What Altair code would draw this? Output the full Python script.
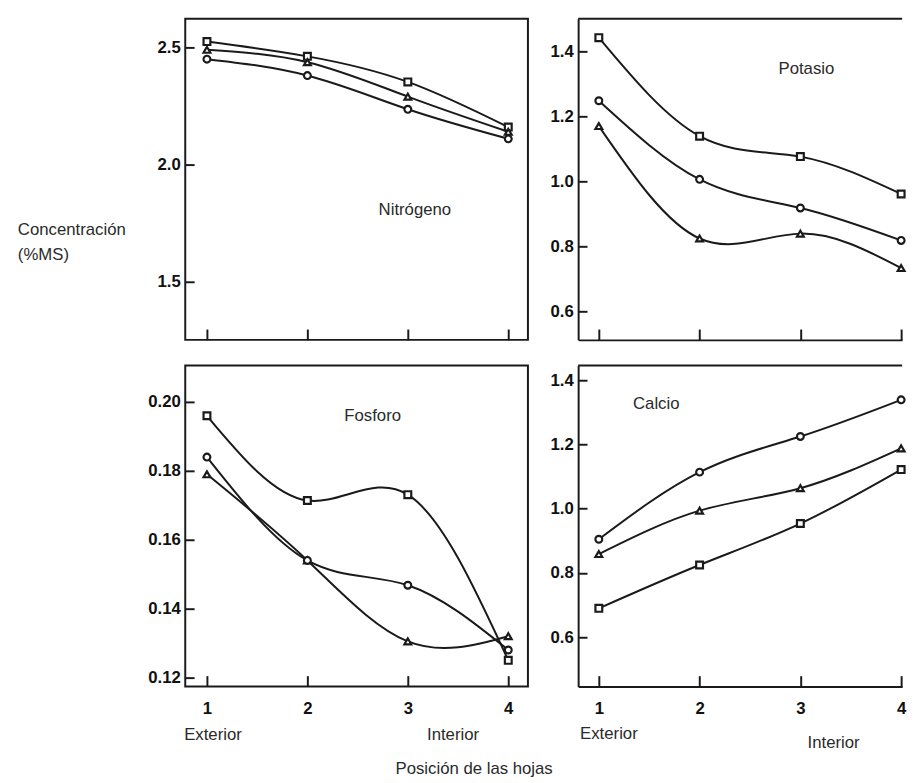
import altair as alt
import pandas as pd

# ---------------- data ----------------
positions = [1, 2, 3, 4]
series = ["cuadrado", "triangulo", "circulo"]
series_shapes = ["square", "triangle-up", "circle"]

nitrogeno = {
    "cuadrado": [2.525, 2.462, 2.353, 2.16],
    "triangulo": [2.49, 2.437, 2.29, 2.14],
    "circulo": [2.45, 2.38, 2.236, 2.11],
}
potasio = {
    "cuadrado": [1.442, 1.139, 1.076, 0.961],
    "triangulo": [1.170, 0.824, 0.839, 0.733],
    "circulo": [1.248, 1.006, 0.918, 0.818],
}
fosforo = {
    "cuadrado": [0.196, 0.1714, 0.1731, 0.125],
    "triangulo": [0.179, 0.154, 0.1305, 0.132],
    "circulo": [0.184, 0.154, 0.1468, 0.128],
}
calcio = {
    "cuadrado": [0.690, 0.825, 0.954, 1.122],
    "triangulo": [0.859, 0.994, 1.064, 1.188],
    "circulo": [0.905, 1.114, 1.225, 1.339],
}

ticks_n = [1.5, 2.0, 2.5]
ticks_k = [0.6, 0.8, 1.0, 1.2, 1.4]
ticks_p = [0.12, 0.14, 0.16, 0.18, 0.20]
ticks_ca = [0.6, 0.8, 1.0, 1.2, 1.4]

FONT = "Liberation Sans, Arial, sans-serif"
INK = "#1a1a1a"
TXT = "#2a2a2a"

one = pd.DataFrame({"k": [0]})


def make_df(values):
    rows = []
    for s in series:
        for p, v in zip(positions, values[s]):
            rows.append({"pos": p, "valor": v, "serie": s})
    return pd.DataFrame(rows)


def label(text, **enc):
    return alt.Chart(one).mark_text(
        text=text, font=FONT, fontSize=17, color=TXT
    ).encode(**enc)


def panel(values, ydomain, yticks, yfmt, xdomain, width, height, framed,
          show_xlabels, extras):
    df = make_df(values)
    xaxis = alt.Axis(
        values=positions, title=None, labels=show_xlabels, format="d",
        grid=False, tickSize=alt.ExprRef(expr="-11"), tickColor=INK,
        tickWidth=2, domain=not framed, domainColor=INK, domainWidth=2,
        labelPadding=25,
    )
    yaxis = alt.Axis(
        values=yticks, title=None, format=yfmt, grid=False,
        tickSize=alt.ExprRef(expr="-9"), tickColor=INK, tickWidth=2,
        domain=not framed, domainColor=INK, domainWidth=2, labelPadding=14,
    )
    x = alt.X("pos:Q", scale=alt.Scale(domain=xdomain, nice=False, zero=False),
              axis=xaxis)
    y = alt.Y("valor:Q", scale=alt.Scale(domain=ydomain, nice=False, zero=False),
              axis=yaxis)
    base = alt.Chart(df)
    lines = base.mark_line(interpolate="natural", color=INK,
                           strokeWidth=2).encode(x=x, y=y, detail="serie:N")
    points = base.mark_point(
        filled=True, fill="white", stroke=INK, strokeWidth=2.2, size=48,
        opacity=1,
    ).encode(
        x=x, y=y,
        shape=alt.Shape("serie:N",
                        scale=alt.Scale(domain=series, range=series_shapes),
                        legend=None),
    )
    layers = [lines, points] + extras
    if framed:
        view = alt.ViewBackground(stroke=INK, strokeWidth=2)
    else:
        view = alt.ViewBackground(stroke="transparent")
        layers.append(
            alt.Chart(one).mark_rule(color=INK, strokeWidth=2).encode(
                y=alt.value(0))
        )
    return alt.layer(*layers).properties(width=width, height=height, view=view)


W_L, W_R, H = 348, 329, 326
XD_L = [0.784, 0.784 + 348 / 102.0]
XD_R = [0.7948, 0.7948 + 329 / 102.33]

p_n = panel(
    nitrogeno, [1.252, 2.622], ticks_n, ".1f", XD_L, W_L, H, True, False,
    [
        label("Nitrógeno", x=alt.datum(3.07), y=alt.datum(1.807)),
        alt.Chart(one).mark_text(text="Concentración", font=FONT, fontSize=17,
                                 color=TXT, align="left").encode(
            x=alt.value(-170), y=alt.value(214)),
        alt.Chart(one).mark_text(text="(%MS)", font=FONT, fontSize=17,
                                 color=TXT, align="left").encode(
            x=alt.value(-170), y=alt.value(240)),
    ],
)
p_k = panel(
    potasio, [0.512, 1.50], ticks_k, ".1f", XD_R, W_R, H, False, False,
    [label("Potasio", x=alt.datum(3.06), y=alt.datum(1.345))],
)
p_p = panel(
    fosforo, [0.1174, 0.2106], ticks_p, ".2f", XD_L, W_L, H, True, True,
    [
        label("Fosforo", x=alt.datum(2.65), y=alt.datum(0.196)),
        label("Exterior", x=alt.datum(1.06), y=alt.value(375)),
        label("Interior", x=alt.datum(3.45), y=alt.value(375)),
        label("Posición de las hojas", x=alt.datum(3.66), y=alt.value(410)),
    ],
)
p_ca = panel(
    calcio, [0.4467, 1.446], ticks_ca, ".1f", XD_R, W_R, H, False, True,
    [
        label("Calcio", x=alt.datum(1.57), y=alt.datum(1.327)),
        label("Exterior", x=alt.datum(1.10), y=alt.value(374)),
        label("Interior", x=alt.datum(3.33), y=alt.value(383)),
    ],
)

chart = alt.concat(
    p_n, p_k, p_p, p_ca, columns=2,
    spacing={"row": 26, "column": 51}, bounds="flush",
).properties(
    padding={"left": 9, "top": 3, "right": 0, "bottom": 0},
    background="white",
).configure_axis(
    labelFont=FONT, labelFontSize=17, labelFontWeight="bold", labelColor="#111",
).configure_view(strokeWidth=2)

chart.save("out.html", embed_options={"renderer": "svg", "actions": False})
